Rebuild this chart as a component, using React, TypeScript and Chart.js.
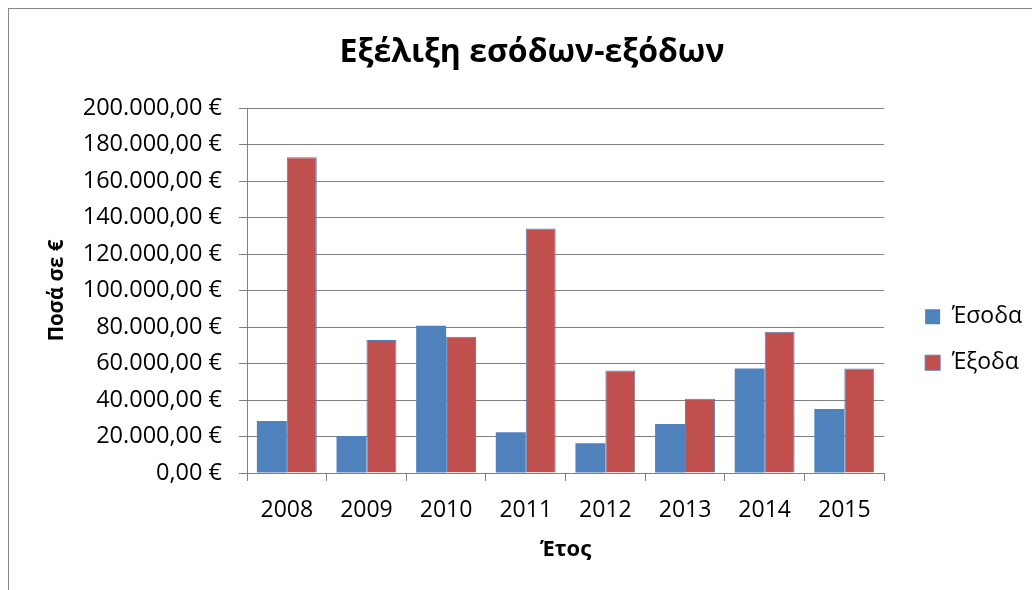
import React, { useEffect, useRef } from "react";
import { Chart, registerables } from "chart.js";

Chart.register(...registerables);

const categories = ["2008", "2009", "2010", "2011", "2012", "2013", "2014", "2015"];
const incomeValues = [28500, 20300, 80700, 22300, 16300, 26800, 57300, 35100];
const expenseValues = [173000, 72900, 74700, 134000, 56100, 40700, 77400, 57200];
const seriesNames = ["Έσοδα", "Έξοδα"];
const chartTitle = "Εξέλιξη εσόδων-εξόδων";
const yAxisTitle = "Ποσά σε €";
const xAxisTitle = "Έτος";
const yMin = 0;
const yMax = 200000;
const yStep = 20000;

const FONT = "'Open Sans', 'DejaVu Sans', sans-serif";
const GRID = "#808080";

function formatEuro(v: number): string {
  const [i, d] = Math.abs(v).toFixed(2).split(".");
  const int = i.replace(/\B(?=(\d{3})+(?!\d))/g, ".");
  return `${v < 0 ? "-" : ""}${int},${d} €`;
}

export default function App() {
  const ref = useRef<HTMLCanvasElement | null>(null);

  useEffect(() => {
    if (!ref.current) return;
    const chart = new Chart(ref.current, {
      type: "bar",
      data: {
        labels: categories,
        datasets: [
          {
            label: seriesNames[0],
            data: incomeValues,
            backgroundColor: "#4F81BD",
            borderColor: "#4F81BD",
            borderWidth: 0,
            categoryPercentage: 0.752,
            barPercentage: 1,
          },
          {
            label: seriesNames[1],
            data: expenseValues,
            backgroundColor: "#C0504D",
            borderColor: "#4F81BD",
            borderWidth: 1,
            categoryPercentage: 0.752,
            barPercentage: 1,
          },
        ],
      },
      options: {
        animation: false,
        responsive: false,
        maintainAspectRatio: false,
        layout: { padding: { left: 23, right: 0, top: 0, bottom: 0 } },
        plugins: {
          title: {
            display: true,
            text: chartTitle,
            color: "#000",
            font: { family: FONT, size: 32, weight: "bold" },
            padding: { top: 25, bottom: 35.6 },
          },
          legend: {
            display: true,
            position: "right",
            align: "center",
            title: { display: true, text: "", padding: { top: 66, bottom: 0 }, font: { size: 12 } },
            labels: {
              color: "#000",
              font: { family: FONT, size: 23 },
              boxWidth: 15,
              boxHeight: 15,
              padding: 23,
            },
          },
          tooltip: { enabled: false },
        },
        scales: {
          x: {
            type: "category",
            offset: true,
            grid: {
              display: true,
              drawOnChartArea: false,
              drawTicks: true,
              tickLength: 8,
              color: GRID,
              offset: true,
            },
            border: { display: true, color: GRID, width: 1 },
            ticks: {
              color: "#000",
              font: { family: FONT, size: 23 },
              padding: 16,
              maxRotation: 0,
              autoSkip: false,
            },
            title: {
              display: true,
              text: xAxisTitle,
              color: "#000",
              font: { family: FONT, size: 22, weight: "bold" },
              padding: { top: 0, bottom: 27 },
            },
            afterFit: (s: any) => {
              s.height = 117;
            },
          },
          y: {
            type: "linear",
            min: yMin,
            max: yMax,
            grid: {
              display: true,
              drawOnChartArea: true,
              drawTicks: true,
              tickLength: 8,
              color: GRID,
            },
            border: { display: true, color: GRID, width: 1 },
            ticks: {
              stepSize: yStep,
              color: "#000",
              font: { family: FONT, size: 23.5 },
              padding: 17,
              callback: (v: any) => formatEuro(Number(v)),
            },
            title: {
              display: true,
              text: yAxisTitle,
              color: "#000",
              font: { family: FONT, size: 20.5, weight: "bold" },
              padding: { top: 13, bottom: 0 },
            },
            afterFit: (s: any) => {
              s.width = 215;
            },
          },
          spacer: {
            type: "linear",
            position: "right",
            display: true,
            grid: { display: false },
            border: { display: false },
            ticks: { display: false },
            afterFit: (s: any) => {
              s.width = 18;
            },
          },
        },
      },
    });
    return () => chart.destroy();
  }, []);

  return (
    <div
      style={{
        position: "fixed",
        left: 8,
        top: 8,
        width: 1024,
        height: 582,
        borderLeft: "1px solid #868686",
        borderTop: "1px solid #868686",
        boxSizing: "border-box",
        background: "#fff",
      }}
    >
      <canvas ref={ref} width={1023} height={581} style={{ display: "block" }} />
    </div>
  );
}
